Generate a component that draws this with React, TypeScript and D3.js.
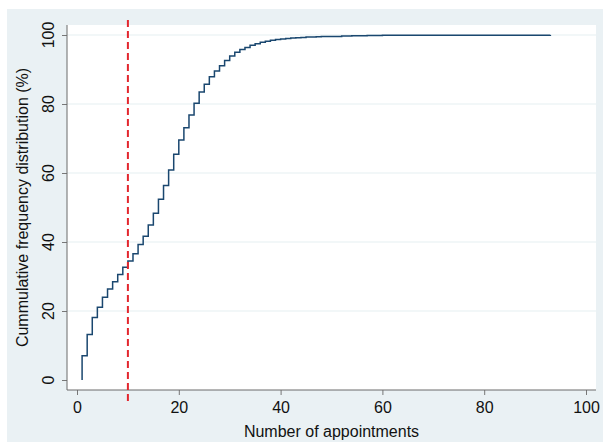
import React, { useRef, useEffect } from "react";
import * as d3 from "d3";

// number of appointments and the cumulative share of patients (%)
const appointments = [
  1, 1, 2, 3, 4, 5, 6, 7, 8, 9, 10, 11, 12, 13, 14, 15, 16, 17, 18, 19, 20,
  21, 22, 23, 24, 25, 26, 27, 28, 29, 30, 31, 32, 33, 34, 35, 36, 37, 38, 39,
  40, 41, 42, 43, 44, 45, 46, 47, 48, 50, 52, 54, 57, 60, 65, 93,
];
const cumPercent = [
  0, 7.0, 13.2, 18.1, 21.1, 24.0, 26.4, 28.5, 30.6, 32.7, 34.5, 36.6, 39.3,
  41.7, 44.9, 48.3, 52.4, 56.4, 60.9, 65.4, 69.6, 73.1, 76.8, 80.2, 83.5, 85.7,
  87.9, 89.6, 91.1, 92.6, 93.9, 95.0, 95.8, 96.4, 97.0, 97.5, 97.9, 98.2, 98.5,
  98.7, 98.85, 99.0, 99.1, 99.2, 99.3, 99.4, 99.45, 99.5, 99.55, 99.6, 99.7,
  99.75, 99.85, 99.9, 99.95, 100,
];
const xTicks = [0, 20, 40, 60, 80, 100];
const yTicks = [0, 20, 40, 60, 80, 100];
const cutoff = 10;

const W = 603;
const H = 445;

const Chart = () => {
  const svgRef = useRef<SVGSVGElement>(null);

  useEffect(() => {
    const svg = d3.select(svgRef.current);
    svg.selectAll("*").remove();

    const font = "'Liberation Sans', Arial, sans-serif";
    const fs = 16;
    const plot = { left: 67, top: 25, right: 596, bottom: 390 };

    const x = d3.scaleLinear().domain([0, 100]).range([77, 586]);
    const y = d3.scaleLinear().domain([0, 100]).range([380, 35]);

    // outer background
    svg.append("rect")
      .attr("x", 7).attr("y", 9)
      .attr("width", W - 7).attr("height", H - 12)
      .attr("fill", "#eaf1f4");

    // plot region
    svg.append("rect")
      .attr("x", plot.left).attr("y", plot.top)
      .attr("width", plot.right - plot.left)
      .attr("height", plot.bottom - plot.top)
      .attr("fill", "#ffffff");

    // grid
    svg.append("g")
      .selectAll("line")
      .data(yTicks.filter(d => d > 0))
      .enter()
      .append("line")
      .attr("x1", plot.left).attr("x2", plot.right)
      .attr("y1", d => y(d)).attr("y2", d => y(d))
      .attr("stroke", "#e6eff1")
      .attr("stroke-width", 1.2);

    // x axis
    const gx = svg.append("g")
      .attr("transform", `translate(0,${plot.bottom})`)
      .call(d3.axisBottom(x).tickValues(xTicks).tickSize(5).tickPadding(7));
    gx.select(".domain").remove();
    gx.selectAll("line").attr("stroke", "#777");
    gx.selectAll("text")
      .attr("font-family", font).attr("font-size", fs).attr("fill", "#111");

    // y axis: ticks from d3, labels rotated by hand
    const gy = svg.append("g")
      .attr("transform", `translate(${plot.left},0)`)
      .call(d3.axisLeft(y).tickValues(yTicks).tickSize(5));
    gy.select(".domain").remove();
    gy.selectAll("line").attr("stroke", "#777");
    gy.selectAll("text").remove();
    svg.append("g")
      .selectAll("text")
      .data(yTicks)
      .enter()
      .append("text")
      .attr("transform", d => `translate(54,${y(d)}) rotate(-90)`)
      .attr("text-anchor", "middle")
      .attr("font-family", font).attr("font-size", fs).attr("fill", "#111")
      .text(d => d);

    // axis lines
    svg.append("line")
      .attr("x1", plot.left).attr("x2", plot.right)
      .attr("y1", plot.bottom).attr("y2", plot.bottom)
      .attr("stroke", "#6b6b6b").attr("stroke-width", 1);
    svg.append("line")
      .attr("x1", plot.left).attr("x2", plot.left)
      .attr("y1", plot.top).attr("y2", plot.bottom)
      .attr("stroke", "#6b6b6b").attr("stroke-width", 1);

    // cumulative step line
    const pts = appointments.map((a, i) => [a, cumPercent[i]] as [number, number]);
    const line = d3.line<[number, number]>()
      .x(d => x(d[0]))
      .y(d => y(d[1]))
      .curve(d3.curveStepAfter);
    svg.append("path")
      .datum(pts)
      .attr("d", line)
      .attr("fill", "none")
      .attr("stroke", "#1a476f")
      .attr("stroke-width", 1.5);

    // cutoff reference line
    svg.append("line")
      .attr("x1", x(cutoff)).attr("x2", x(cutoff))
      .attr("y1", 20).attr("y2", 405)
      .attr("stroke", "#e3262e")
      .attr("stroke-width", 2)
      .attr("stroke-dasharray", "7,4");

    // axis titles
    svg.append("text")
      .attr("x", (plot.left + plot.right) / 2)
      .attr("y", 437)
      .attr("text-anchor", "middle")
      .attr("font-family", font).attr("font-size", fs).attr("fill", "#111")
      .text("Number of appointments");
    svg.append("text")
      .attr("transform", `translate(28,${(plot.top + plot.bottom) / 2}) rotate(-90)`)
      .attr("text-anchor", "middle")
      .attr("font-family", font).attr("font-size", fs).attr("fill", "#111")
      .text("Cummulative frequency distribution (%)");
  }, []);

  return <svg ref={svgRef} width={W} height={H} style={{ display: "block" }}></svg>;
};

export default function App() {
  return (
    <div style={{ position: "absolute", left: 0, top: 0 }}>
      <Chart />
    </div>
  );
}
